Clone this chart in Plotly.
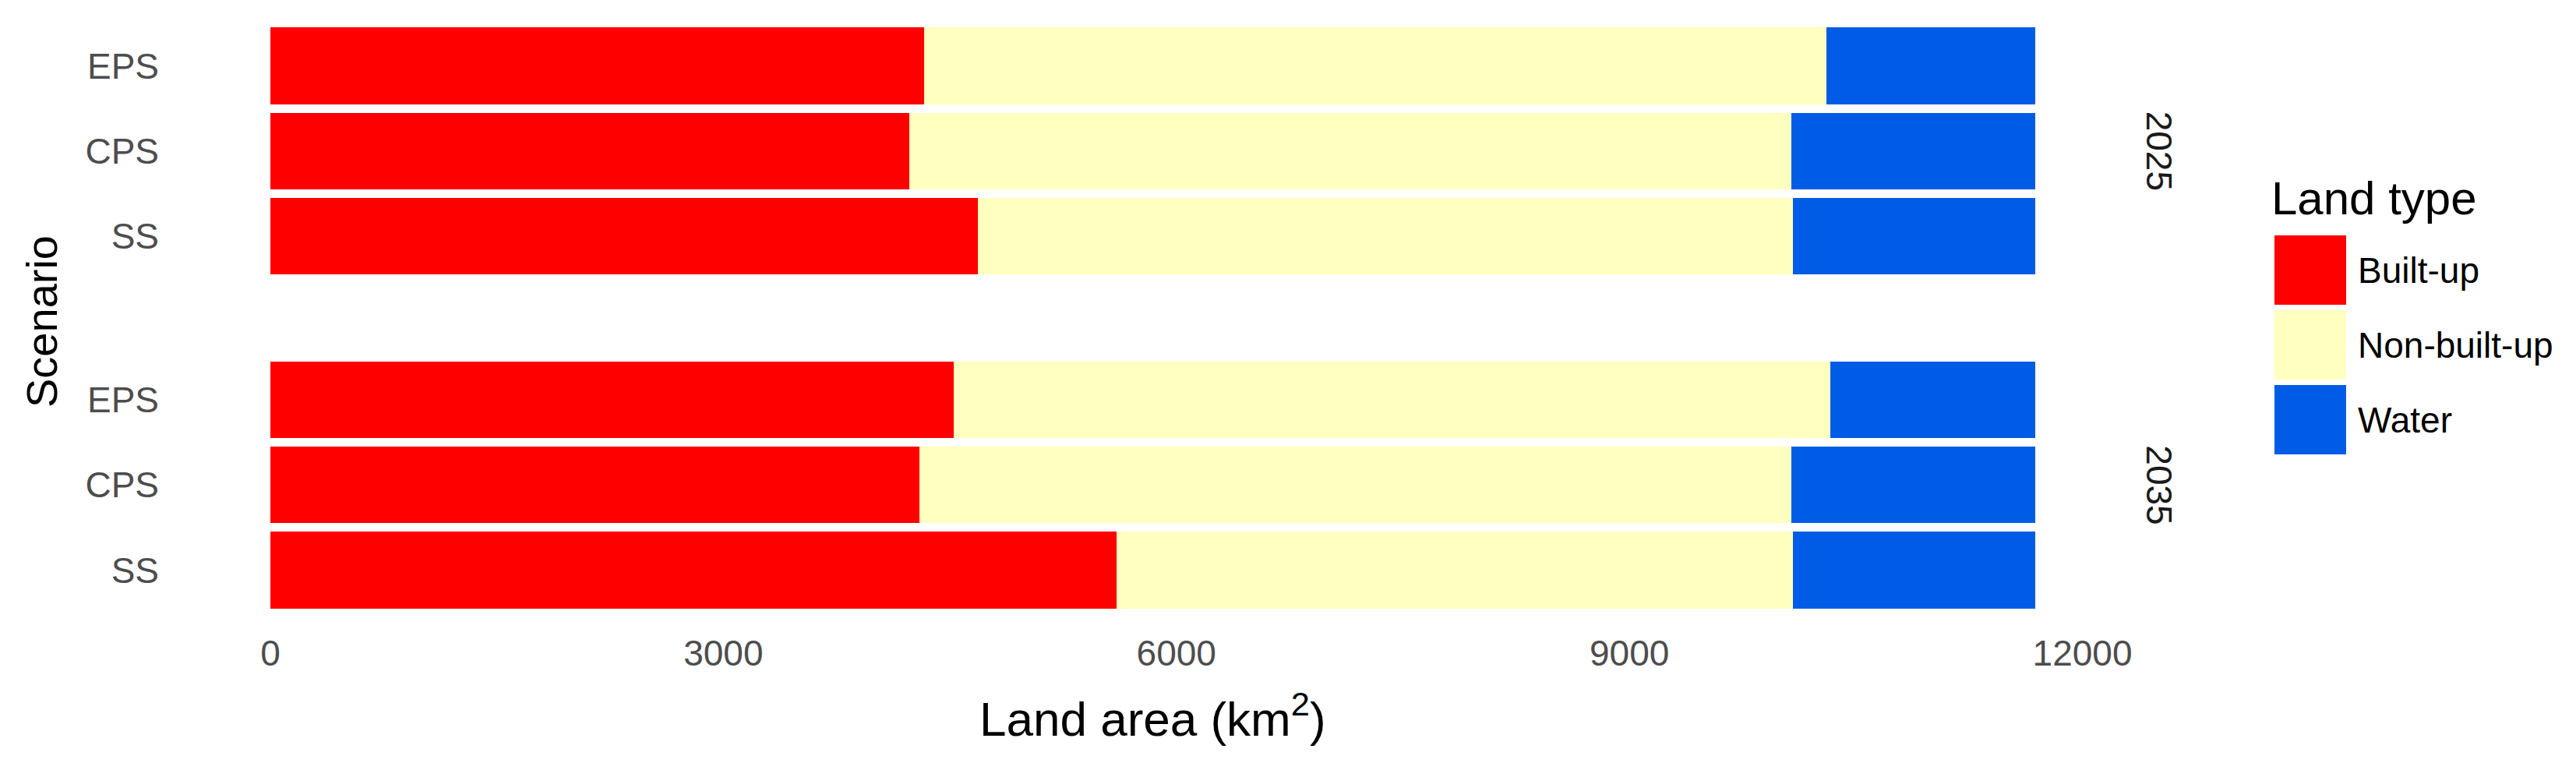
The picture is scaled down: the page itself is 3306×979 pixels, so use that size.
import plotly.graph_objects as go
from plotly.subplots import make_subplots

# data (km2)
years = ["2025", "2035"]
scenarios = ["EPS", "CPS", "SS"]
land_types = ["Built-up", "Non-built-up", "Water"]
colors = ["#FF0000", "#FFFFBF", "#005CE6"]

built_up_2025 = [4330, 4229, 4685]
non_built_2025 = [5975, 5844, 5398]
water_2025 = [1381, 1613, 1603]

built_up_2035 = [4524, 4297, 5604]
non_built_2035 = [5807, 5776, 4479]
water_2035 = [1355, 1613, 1603]

x_ticks = [0, 3000, 6000, 9000, 12000]
x_tick_labels = ["0", "3000", "6000", "9000", "12000"]

values = {
    "2025": [built_up_2025, non_built_2025, water_2025],
    "2035": [built_up_2035, non_built_2035, water_2035],
}

W, H = 3306, 979
ML, MR, MT, MB = 339, 625, 11, 190
FONT = "Liberation Sans, Arial, sans-serif"


def px_x(px):
    return (px - ML) / (W - ML - MR)


def px_y(py):
    return (H - MB - py) / (H - MT - MB)


fig = make_subplots(rows=2, cols=1, shared_xaxes=True, vertical_spacing=0.102)

for row, year in enumerate(years, start=1):
    for name, col, vals in zip(land_types, colors, values[year]):
        fig.add_trace(
            go.Bar(
                y=scenarios,
                x=vals,
                orientation="h",
                name=name,
                marker_color=col,
                marker_line_width=0,
                showlegend=False,
            ),
            row=row,
            col=1,
        )

fig.update_layout(
    width=W,
    height=H,
    barmode="stack",
    bargap=0.1,
    plot_bgcolor="white",
    paper_bgcolor="white",
    margin=dict(l=ML, r=MR, t=MT, b=MB, autoexpand=False),
    font=dict(family=FONT, size=46, color="#4D4D4D"),
)

fig.update_xaxes(
    range=[0, 12085],
    tickvals=x_ticks,
    ticktext=x_tick_labels,
    showgrid=False,
    zeroline=False,
    showline=False,
    automargin=False,
    tickfont=dict(size=46, color="#4D4D4D"),
    ticklabelstandoff=10,
)
fig.update_yaxes(
    categoryorder="array",
    categoryarray=scenarios[::-1],
    range=[-0.6, 2.6],
    showgrid=False,
    zeroline=False,
    showline=False,
    automargin=False,
    tickfont=dict(size=46, color="#4D4D4D"),
    ticklabelstandoff=142,
)

# axis titles
fig.add_annotation(
    text="Land area (km<sup>2</sup>)",
    xref="paper",
    yref="paper",
    x=px_x(1471),
    y=px_y(910),
    xanchor="center",
    yanchor="middle",
    showarrow=False,
    font=dict(size=62, color="black"),
)
fig.add_annotation(
    text="Scenario",
    xref="paper",
    yref="paper",
    x=px_x(45),
    y=px_y(405),
    xanchor="center",
    yanchor="middle",
    textangle=-90,
    showarrow=False,
    font=dict(size=56, color="black"),
)

# facet strip labels
for i, year in enumerate(years):
    dom = fig.layout["yaxis" if i == 0 else "yaxis2"].domain
    fig.add_annotation(
        text=year,
        xref="paper",
        yref="paper",
        x=px_x(2763),
        y=(dom[0] + dom[1]) / 2,
        xanchor="center",
        yanchor="middle",
        textangle=90,
        showarrow=False,
        font=dict(size=46, color="#1A1A1A"),
    )

# legend drawn as keys + labels
fig.add_annotation(
    text="Land type",
    xref="paper",
    yref="paper",
    x=px_x(2905),
    y=px_y(246),
    xanchor="left",
    yanchor="middle",
    showarrow=False,
    font=dict(size=60, color="black"),
)
for i, (name, col) in enumerate(zip(land_types, colors)):
    top = 294 + i * 96
    fig.add_shape(
        type="rect",
        xref="paper",
        yref="paper",
        x0=px_x(2911),
        x1=px_x(3003),
        y0=px_y(top + 89),
        y1=px_y(top),
        fillcolor=col,
        line_width=0,
    )
    fig.add_annotation(
        text=name,
        xref="paper",
        yref="paper",
        x=px_x(3016),
        y=px_y(top + 45),
        xanchor="left",
        yanchor="middle",
        showarrow=False,
        font=dict(size=46, color="black"),
    )

fig.write_html("out.html")
